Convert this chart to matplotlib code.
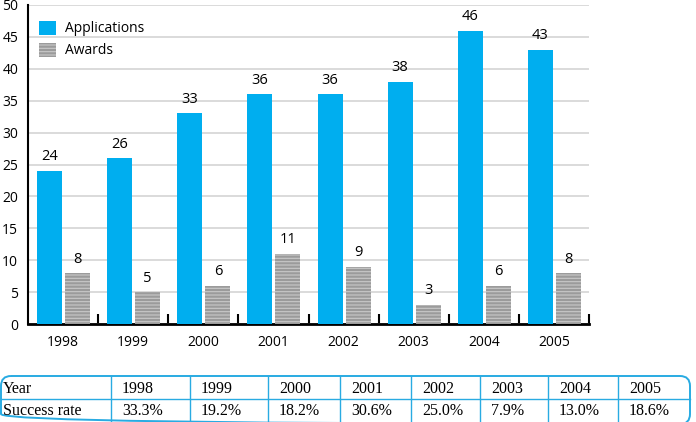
import numpy as np
import matplotlib.pyplot as plt
from matplotlib.patches import FancyBboxPatch

years = ["1998", "1999", "2000", "2001", "2002", "2003", "2004", "2005"]
applications = [24, 26, 33, 36, 36, 38, 46, 43]
awards = [8, 5, 6, 11, 9, 3, 6, 8]
success_rate = ["33.3%", "19.2%", "18.2%", "30.6%", "25.0%", "7.9%", "13.0%", "18.6%"]

blue = "#00aeef"
grey = "#9b9b9b"

plt.rcParams['font.family'] = ['Open Sans', 'DejaVu Sans']
plt.rcParams['hatch.color'] = '#c8c8c8'
plt.rcParams['hatch.linewidth'] = 0.8

fig = plt.figure(figsize=(6.96, 4.22), dpi=100)
W, H = 696, 422
ax = fig.add_axes([28 / W, (H - 324) / H, 561 / W, 319 / H])

x = np.arange(len(years))
w = 0.357
b1 = ax.bar(x - 0.193, applications, w, color=blue, label="Applications", zorder=3)
b2 = ax.bar(x + 0.207, awards, w, color=grey, hatch='-----', edgecolor='#c8c8c8',
            linewidth=0, label="Awards", zorder=3)
for r, v in zip(b1, applications):
    ax.text(r.get_x() + r.get_width() / 2, v + 1.0, str(v), ha='center', va='bottom', fontsize=10.5)
for r, v in zip(b2, awards):
    ax.text(r.get_x() + r.get_width() / 2, v + 1.0, str(v), ha='center', va='bottom', fontsize=10.5)

ax.set_xlim(-0.5, len(years) - 0.5)
ax.set_ylim(0, 50)
ax.set_yticks(range(0, 51, 5))
ax.yaxis.grid(True, color='#d4d4d4', linewidth=1.2, zorder=0)
ax.set_xticks(x)
ax.set_xticklabels(years, fontsize=10)
ax.tick_params(axis='x', length=0, pad=8)
ax.tick_params(axis='y', length=0, pad=7, labelsize=10)
ax.set_xticks(np.arange(0.5, len(years), 1.0), minor=True)
ax.tick_params(axis='x', which='minor', direction='in', length=7, width=1.5)
for s in ['top', 'right']:
    ax.spines[s].set_visible(False)
ax.spines['left'].set_linewidth(1.5)
ax.spines['bottom'].set_linewidth(2)

leg = ax.legend(loc='upper left', frameon=False, fontsize=10, handlelength=1.25,
                handleheight=1.15, bbox_to_anchor=(0.0, 0.985), borderaxespad=0.4,
                labelspacing=0.45, handletextpad=0.6)

# success rate table drawn in figure pixel coordinates
tx = fig.add_axes([0, 0, 1, 1], zorder=-1)
tx.set_xlim(0, W)
tx.set_ylim(H, 0)
tx.axis('off')
box = FancyBboxPatch((1, 376), 689, 48, boxstyle="round,pad=0,rounding_size=10",
                     fill=False, edgecolor='#29abe2', linewidth=1.4, clip_on=False)
tx.add_patch(box)
tx.plot([1, 690], [399, 399], color='#29abe2', linewidth=1.0)
col_lines = [111, 190, 268, 340, 411, 480, 548, 618]
for cx in col_lines:
    tx.plot([cx, cx], [376, 422], color='#29abe2', linewidth=1.0)
tfont = dict(family=['Liberation Serif', 'DejaVu Serif'], fontsize=11.5, va='center', ha='left')
tx.text(3, 389, "Year", **tfont)
tx.text(3, 411, "Success rate", **tfont)
for cx, yr, sr in zip(col_lines, years, success_rate):
    tx.text(cx + 11, 389, yr, **tfont)
    tx.text(cx + 11, 411, sr, **tfont)

fig.savefig("out.png", dpi=100)
